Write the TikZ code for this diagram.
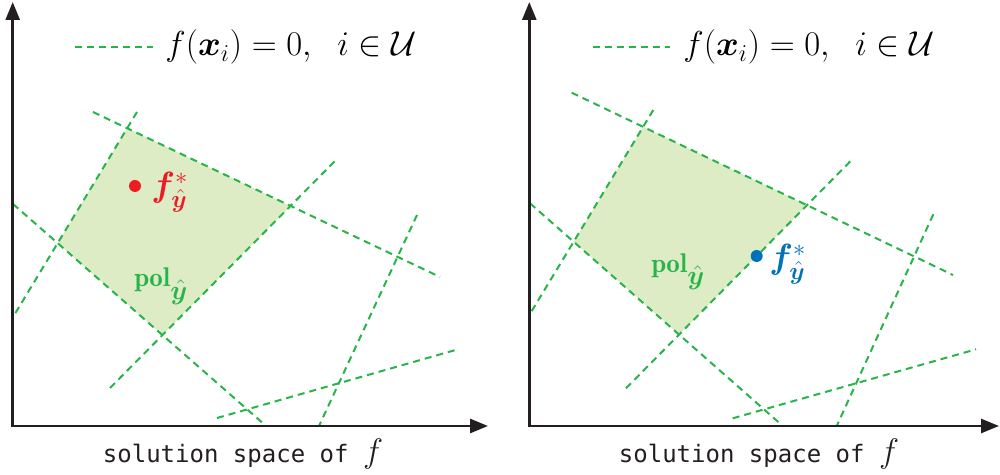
\RequirePackage{fix-cm}
\documentclass[tikz,border=0pt]{standalone}
\usepackage{fontspec}
\usepackage{amsmath,amssymb,bm}
\setmonofont{DejaVu Sans Mono}
\usetikzlibrary{arrows.meta}
\definecolor{lgreen}{RGB}{40,180,75}
\definecolor{pfill}{RGB}{221,236,196}
\definecolor{dred}{RGB}{237,28,36}
\definecolor{dblue}{RGB}{0,114,188}
\definecolor{axisc}{RGB}{35,31,32}
\newcommand{\polsub}{$\mathbf{pol}$\raisebox{-6pt}{$\hat{\bm{y}}$}}
\tikzset{
  axisline/.style={draw=axisc, line width=1.35pt, {Triangle[length=9pt,width=7pt]}-{Triangle[length=9pt,width=7pt]}},
  cutline/.style={draw=lgreen, line width=1pt, dash pattern=on 3.5pt off 2.5pt},
  polyfill/.style={fill=pfill, draw=none},
  legendtext/.style={anchor=base west, inner sep=0pt, font=\fontsize{17.3}{19}\selectfont},
  axislabel/.style={anchor=base, inner sep=0pt, font=\fontsize{12}{14}\selectfont, text=axisc},
  pollabel/.style={anchor=base west, inner sep=0pt, text=lgreen, font=\fontsize{13.5}{15}\selectfont},
  ptlabel/.style={anchor=base west, inner sep=0pt, font=\fontsize{17.5}{19}\selectfont},
}
\begin{document}
\begin{tikzpicture}[x=0.5pt,y=-0.5pt]
\useasboundingbox (0,0) rectangle (1000,475);
% ================= left panel =================
\coordinate (Aa1) at (93,112);   \coordinate (Ab1) at (440,277);
\coordinate (Aa2) at (137,112);  \coordinate (Ab2) at (13,317);
\coordinate (Aa3) at (13,204);   \coordinate (Ab3) at (265,425);
\coordinate (Aa4) at (110,388);  \coordinate (Ab4) at (337,159);
\coordinate (Aa5) at (417,215);  \coordinate (Ab5) at (319,426);
\coordinate (Aa6) at (217,418);  \coordinate (Ab6) at (459,349);
\coordinate (Atop) at (intersection of Aa1--Ab1 and Aa2--Ab2);
\coordinate (Aright) at (intersection of Aa1--Ab1 and Aa4--Ab4);
\coordinate (Abot) at (intersection of Aa3--Ab3 and Aa4--Ab4);
\coordinate (Aleft) at (intersection of Aa2--Ab2 and Aa3--Ab3);
\path[polyfill] (Atop) -- (Aright) -- (Abot) -- (Aleft) -- cycle;
\foreach \i in {1,...,6} { \draw[cutline] (Aa\i) -- (Ab\i); }
\coordinate (Ayt) at (12.7,2);
\coordinate (Ao) at (12.7,426);
\coordinate (Axt) at (488,426);
\draw[axisline] (Ayt) -- (Ao) -- (Axt);
\coordinate (Ala) at (75,47); \coordinate (Alb) at (153,47);
\draw[cutline] (Ala) -- (Alb);
\node[legendtext] (Aleg) at (165,56) {$f(\bm{x}_i)=0,\;\ i\in\mathcal{U}$};
\fill[dred] (135,186) circle (6);
\node[ptlabel, text=dred] (Afs) at (151,197) {$\bm{f}^{*}_{\hat{\bm{y}}}$};
\node[pollabel] (Apol) at (134,287) {\polsub};
\node[axislabel] (Axl) at (243,462) {\texttt{solution space of }\fontsize{17}{17}\selectfont$f$};
% ================= right panel =================
\coordinate (Ba1) at (571.7,92.7);  \coordinate (Bb1) at (953,275);
\coordinate (Ba2) at (653.3,110);   \coordinate (Bb2) at (529.3,315);
\coordinate (Ba3) at (530,203.3);   \coordinate (Bb3) at (781.7,425);
\coordinate (Ba4) at (626,388.3);   \coordinate (Bb4) at (853.3,158.3);
\coordinate (Ba5) at (933.3,214.3); \coordinate (Bb5) at (836.7,426);
\coordinate (Ba6) at (732.7,418.3); \coordinate (Bb6) at (976,349.3);
\coordinate (Btop) at (intersection of Ba1--Bb1 and Ba2--Bb2);
\coordinate (Bright) at (intersection of Ba1--Bb1 and Ba4--Bb4);
\coordinate (Bbot) at (intersection of Ba3--Bb3 and Ba4--Bb4);
\coordinate (Bleft) at (intersection of Ba2--Bb2 and Ba3--Bb3);
\path[polyfill] (Btop) -- (Bright) -- (Bbot) -- (Bleft) -- cycle;
\foreach \i in {1,...,6} { \draw[cutline] (Ba\i) -- (Bb\i); }
\coordinate (Byt) at (529.3,2);
\coordinate (Bo) at (529.3,426);
\coordinate (Bxt) at (999,426);
\draw[axisline] (Byt) -- (Bo) -- (Bxt);
\coordinate (Bla) at (592.7,47); \coordinate (Blb) at (670,47);
\draw[cutline] (Bla) -- (Blb);
\node[legendtext] (Bleg) at (683,56) {$f(\bm{x}_i)=0,\;\ i\in\mathcal{U}$};
\fill[dblue] (756.7,256) circle (6);
\node[ptlabel, text=dblue] (Bfs) at (769,269) {$\bm{f}^{*}_{\hat{\bm{y}}}$};
\node[pollabel] (Bpol) at (651,273) {\polsub};
\node[axislabel] (Bxl) at (759,462) {\texttt{solution space of }\fontsize{17}{17}\selectfont$f$};
\end{tikzpicture}
\end{document}
